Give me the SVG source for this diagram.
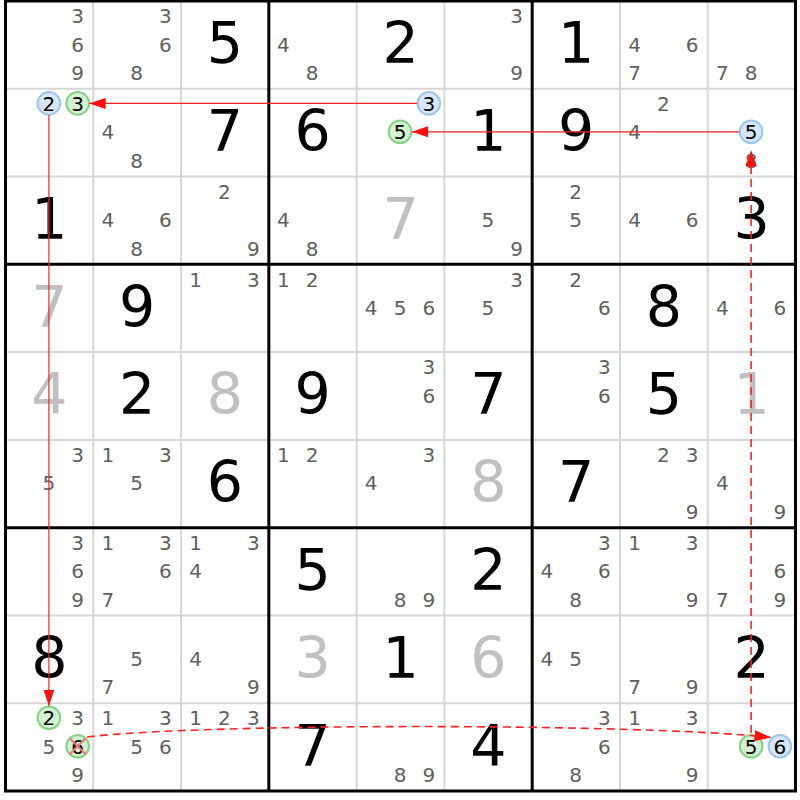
<svg xmlns="http://www.w3.org/2000/svg" width="800" height="800" viewBox="0 0 800 800">
<style>
text{font-family:"DejaVu Sans","Verdana",sans-serif;text-anchor:middle}
.g{font-size:57px;fill:#000}
.s{font-size:57px;fill:#c0c0c0}
.c{font-size:20px;fill:#606060}
.k{font-size:20px;fill:#000}
.thin{stroke:#d6d6d6;stroke-width:2;fill:none}
.thick{stroke:#000;stroke-width:3;fill:none}
.blue{fill:#d6e7fb;stroke:#9cc6f2;stroke-width:2}
.green{fill:#d3f1d3;stroke:#84d384;stroke-width:2}
.x{stroke:#f07878;stroke-width:2}
.link{stroke:#ff2020;stroke-width:1.2;fill:none}
.dash{stroke:#ff2020;stroke-width:1.6;fill:none;stroke-dasharray:8,5}
</style>
<defs>
<marker id="ah" markerUnits="userSpaceOnUse" markerWidth="17" markerHeight="11" refX="16.5" refY="5.5" orient="auto">
<path d="M0,0 L16.5,5.5 L0,11 z" fill="#ff1010"/>
</marker>
</defs>
<rect x="0" y="0" width="800" height="800" fill="#fff"/>
<g id="grid-thin">
<path class="thin" d="M93.28,1V791M181.06,1V791M356.61,1V791M444.39,1V791M619.94,1V791M707.72,1V791M5.5,88.78H795.5M5.5,176.56H795.5M5.5,352.11H795.5M5.5,439.89H795.5M5.5,615.44H795.5M5.5,703.22H795.5"/>
</g>
<g id="grid-thick">
<path class="thick" d="M268.83,1V791M532.17,1V791M5.5,264.33H795.5M5.5,527.67H795.5"/>
<rect class="thick" x="5.5" y="1" width="790" height="790"/>
</g>
<g id="cells">
<!-- row 1 -->
<g id="r1c1" transform="translate(5.5,1)"><text class="c" x="72.2" y="22.2">3</text><text class="c" x="72.2" y="50.6">6</text><text class="c" x="72.2" y="79">9</text></g>
<g id="r1c2" transform="translate(93.28,1)"><text class="c" x="72.2" y="22.2">3</text><text class="c" x="72.2" y="50.6">6</text><text class="c" x="43.4" y="79">8</text></g>
<g id="r1c3" transform="translate(181.06,1)"><text class="g" x="43.9" y="62.3">5</text></g>
<g id="r1c4" transform="translate(268.83,1)"><text class="c" x="14.6" y="50.6">4</text><text class="c" x="43.4" y="79">8</text></g>
<g id="r1c5" transform="translate(356.61,1)"><text class="g" x="43.9" y="62.3">2</text></g>
<g id="r1c6" transform="translate(444.39,1)"><text class="c" x="72.2" y="22.2">3</text><text class="c" x="72.2" y="79">9</text></g>
<g id="r1c7" transform="translate(532.17,1)"><text class="g" x="43.9" y="62.3">1</text></g>
<g id="r1c8" transform="translate(619.94,1)"><text class="c" x="14.6" y="50.6">4</text><text class="c" x="72.2" y="50.6">6</text><text class="c" x="14.6" y="79">7</text></g>
<g id="r1c9" transform="translate(707.72,1)"><text class="c" x="14.6" y="79">7</text><text class="c" x="43.4" y="79">8</text></g>
<!-- row 2 -->
<g id="r2c1" transform="translate(5.5,88.78)"><circle class="blue" cx="43.4" cy="14.6" r="11.3"/><text class="k" x="43.4" y="22.2">2</text><circle class="green" cx="72.2" cy="14.6" r="11.3"/><text class="k" x="72.2" y="22.2">3</text></g>
<g id="r2c2" transform="translate(93.28,88.78)"><text class="c" x="14.6" y="50.6">4</text><text class="c" x="43.4" y="79">8</text></g>
<g id="r2c3" transform="translate(181.06,88.78)"><text class="g" x="43.9" y="62.3">7</text></g>
<g id="r2c4" transform="translate(268.83,88.78)"><text class="g" x="43.9" y="62.3">6</text></g>
<g id="r2c5" transform="translate(356.61,88.78)"><circle class="blue" cx="72.2" cy="14.6" r="11.3"/><text class="k" x="72.2" y="22.2">3</text><circle class="green" cx="43.4" cy="43" r="11.3"/><text class="k" x="43.4" y="50.6">5</text></g>
<g id="r2c6" transform="translate(444.39,88.78)"><text class="g" x="43.9" y="62.3">1</text></g>
<g id="r2c7" transform="translate(532.17,88.78)"><text class="g" x="43.9" y="62.3">9</text></g>
<g id="r2c8" transform="translate(619.94,88.78)"><text class="c" x="43.4" y="22.2">2</text><text class="c" x="14.6" y="50.6">4</text></g>
<g id="r2c9" transform="translate(707.72,88.78)"><circle class="blue" cx="43.4" cy="43" r="11.3"/><text class="k" x="43.4" y="50.6">5</text><text class="c" x="43.4" y="79">8</text></g>
<!-- row 3 -->
<g id="r3c1" transform="translate(5.5,176.56)"><text class="g" x="43.9" y="62.3">1</text></g>
<g id="r3c2" transform="translate(93.28,176.56)"><text class="c" x="14.6" y="50.6">4</text><text class="c" x="72.2" y="50.6">6</text><text class="c" x="43.4" y="79">8</text></g>
<g id="r3c3" transform="translate(181.06,176.56)"><text class="c" x="43.4" y="22.2">2</text><text class="c" x="72.2" y="79">9</text></g>
<g id="r3c4" transform="translate(268.83,176.56)"><text class="c" x="14.6" y="50.6">4</text><text class="c" x="43.4" y="79">8</text></g>
<g id="r3c5" transform="translate(356.61,176.56)"><text class="s" x="43.9" y="62.3">7</text></g>
<g id="r3c6" transform="translate(444.39,176.56)"><text class="c" x="43.4" y="50.6">5</text><text class="c" x="72.2" y="79">9</text></g>
<g id="r3c7" transform="translate(532.17,176.56)"><text class="c" x="43.4" y="22.2">2</text><text class="c" x="43.4" y="50.6">5</text></g>
<g id="r3c8" transform="translate(619.94,176.56)"><text class="c" x="14.6" y="50.6">4</text><text class="c" x="72.2" y="50.6">6</text></g>
<g id="r3c9" transform="translate(707.72,176.56)"><text class="g" x="43.9" y="62.3">3</text></g>
<!-- row 4 -->
<g id="r4c1" transform="translate(5.5,264.33)"><text class="s" x="43.9" y="62.3">7</text></g>
<g id="r4c2" transform="translate(93.28,264.33)"><text class="g" x="43.9" y="62.3">9</text></g>
<g id="r4c3" transform="translate(181.06,264.33)"><text class="c" x="14.6" y="22.2">1</text><text class="c" x="72.2" y="22.2">3</text></g>
<g id="r4c4" transform="translate(268.83,264.33)"><text class="c" x="14.6" y="22.2">1</text><text class="c" x="43.4" y="22.2">2</text></g>
<g id="r4c5" transform="translate(356.61,264.33)"><text class="c" x="14.6" y="50.6">4</text><text class="c" x="43.4" y="50.6">5</text><text class="c" x="72.2" y="50.6">6</text></g>
<g id="r4c6" transform="translate(444.39,264.33)"><text class="c" x="72.2" y="22.2">3</text><text class="c" x="43.4" y="50.6">5</text></g>
<g id="r4c7" transform="translate(532.17,264.33)"><text class="c" x="43.4" y="22.2">2</text><text class="c" x="72.2" y="50.6">6</text></g>
<g id="r4c8" transform="translate(619.94,264.33)"><text class="g" x="43.9" y="62.3">8</text></g>
<g id="r4c9" transform="translate(707.72,264.33)"><text class="c" x="14.6" y="50.6">4</text><text class="c" x="72.2" y="50.6">6</text></g>
<!-- row 5 -->
<g id="r5c1" transform="translate(5.5,352.11)"><text class="s" x="43.9" y="62.3">4</text></g>
<g id="r5c2" transform="translate(93.28,352.11)"><text class="g" x="43.9" y="62.3">2</text></g>
<g id="r5c3" transform="translate(181.06,352.11)"><text class="s" x="43.9" y="62.3">8</text></g>
<g id="r5c4" transform="translate(268.83,352.11)"><text class="g" x="43.9" y="62.3">9</text></g>
<g id="r5c5" transform="translate(356.61,352.11)"><text class="c" x="72.2" y="22.2">3</text><text class="c" x="72.2" y="50.6">6</text></g>
<g id="r5c6" transform="translate(444.39,352.11)"><text class="g" x="43.9" y="62.3">7</text></g>
<g id="r5c7" transform="translate(532.17,352.11)"><text class="c" x="72.2" y="22.2">3</text><text class="c" x="72.2" y="50.6">6</text></g>
<g id="r5c8" transform="translate(619.94,352.11)"><text class="g" x="43.9" y="62.3">5</text></g>
<g id="r5c9" transform="translate(707.72,352.11)"><text class="s" x="43.9" y="62.3">1</text></g>
<!-- row 6 -->
<g id="r6c1" transform="translate(5.5,439.89)"><text class="c" x="72.2" y="22.2">3</text><text class="c" x="43.4" y="50.6">5</text></g>
<g id="r6c2" transform="translate(93.28,439.89)"><text class="c" x="14.6" y="22.2">1</text><text class="c" x="72.2" y="22.2">3</text><text class="c" x="43.4" y="50.6">5</text></g>
<g id="r6c3" transform="translate(181.06,439.89)"><text class="g" x="43.9" y="62.3">6</text></g>
<g id="r6c4" transform="translate(268.83,439.89)"><text class="c" x="14.6" y="22.2">1</text><text class="c" x="43.4" y="22.2">2</text></g>
<g id="r6c5" transform="translate(356.61,439.89)"><text class="c" x="72.2" y="22.2">3</text><text class="c" x="14.6" y="50.6">4</text></g>
<g id="r6c6" transform="translate(444.39,439.89)"><text class="s" x="43.9" y="62.3">8</text></g>
<g id="r6c7" transform="translate(532.17,439.89)"><text class="g" x="43.9" y="62.3">7</text></g>
<g id="r6c8" transform="translate(619.94,439.89)"><text class="c" x="43.4" y="22.2">2</text><text class="c" x="72.2" y="22.2">3</text><text class="c" x="72.2" y="79">9</text></g>
<g id="r6c9" transform="translate(707.72,439.89)"><text class="c" x="14.6" y="50.6">4</text><text class="c" x="72.2" y="79">9</text></g>
<!-- row 7 -->
<g id="r7c1" transform="translate(5.5,527.67)"><text class="c" x="72.2" y="22.2">3</text><text class="c" x="72.2" y="50.6">6</text><text class="c" x="72.2" y="79">9</text></g>
<g id="r7c2" transform="translate(93.28,527.67)"><text class="c" x="14.6" y="22.2">1</text><text class="c" x="72.2" y="22.2">3</text><text class="c" x="72.2" y="50.6">6</text><text class="c" x="14.6" y="79">7</text></g>
<g id="r7c3" transform="translate(181.06,527.67)"><text class="c" x="14.6" y="22.2">1</text><text class="c" x="72.2" y="22.2">3</text><text class="c" x="14.6" y="50.6">4</text></g>
<g id="r7c4" transform="translate(268.83,527.67)"><text class="g" x="43.9" y="62.3">5</text></g>
<g id="r7c5" transform="translate(356.61,527.67)"><text class="c" x="43.4" y="79">8</text><text class="c" x="72.2" y="79">9</text></g>
<g id="r7c6" transform="translate(444.39,527.67)"><text class="g" x="43.9" y="62.3">2</text></g>
<g id="r7c7" transform="translate(532.17,527.67)"><text class="c" x="72.2" y="22.2">3</text><text class="c" x="14.6" y="50.6">4</text><text class="c" x="72.2" y="50.6">6</text><text class="c" x="43.4" y="79">8</text></g>
<g id="r7c8" transform="translate(619.94,527.67)"><text class="c" x="14.6" y="22.2">1</text><text class="c" x="72.2" y="22.2">3</text><text class="c" x="72.2" y="79">9</text></g>
<g id="r7c9" transform="translate(707.72,527.67)"><text class="c" x="72.2" y="50.6">6</text><text class="c" x="14.6" y="79">7</text><text class="c" x="72.2" y="79">9</text></g>
<!-- row 8 -->
<g id="r8c1" transform="translate(5.5,615.44)"><text class="g" x="43.9" y="62.3">8</text></g>
<g id="r8c2" transform="translate(93.28,615.44)"><text class="c" x="43.4" y="50.6">5</text><text class="c" x="14.6" y="79">7</text></g>
<g id="r8c3" transform="translate(181.06,615.44)"><text class="c" x="14.6" y="50.6">4</text><text class="c" x="72.2" y="79">9</text></g>
<g id="r8c4" transform="translate(268.83,615.44)"><text class="s" x="43.9" y="62.3">3</text></g>
<g id="r8c5" transform="translate(356.61,615.44)"><text class="g" x="43.9" y="62.3">1</text></g>
<g id="r8c6" transform="translate(444.39,615.44)"><text class="s" x="43.9" y="62.3">6</text></g>
<g id="r8c7" transform="translate(532.17,615.44)"><text class="c" x="14.6" y="50.6">4</text><text class="c" x="43.4" y="50.6">5</text></g>
<g id="r8c8" transform="translate(619.94,615.44)"><text class="c" x="14.6" y="79">7</text><text class="c" x="72.2" y="79">9</text></g>
<g id="r8c9" transform="translate(707.72,615.44)"><text class="g" x="43.9" y="62.3">2</text></g>
<!-- row 9 -->
<g id="r9c1" transform="translate(5.5,703.22)"><circle class="green" cx="43.4" cy="14.6" r="11.3"/><text class="k" x="43.4" y="22.2">2</text><text class="c" x="72.2" y="22.2">3</text><text class="c" x="43.4" y="50.6">5</text><circle class="green" cx="72.2" cy="43" r="11.3"/><text class="k" x="72.2" y="50.6">6</text><path class="x" d="M64.2,35L80.2,51M80.2,35L64.2,51"/><text class="c" x="72.2" y="79">9</text></g>
<g id="r9c2" transform="translate(93.28,703.22)"><text class="c" x="14.6" y="22.2">1</text><text class="c" x="72.2" y="22.2">3</text><text class="c" x="43.4" y="50.6">5</text><text class="c" x="72.2" y="50.6">6</text></g>
<g id="r9c3" transform="translate(181.06,703.22)"><text class="c" x="14.6" y="22.2">1</text><text class="c" x="43.4" y="22.2">2</text><text class="c" x="72.2" y="22.2">3</text></g>
<g id="r9c4" transform="translate(268.83,703.22)"><text class="g" x="43.9" y="62.3">7</text></g>
<g id="r9c5" transform="translate(356.61,703.22)"><text class="c" x="43.4" y="79">8</text><text class="c" x="72.2" y="79">9</text></g>
<g id="r9c6" transform="translate(444.39,703.22)"><text class="g" x="43.9" y="62.3">4</text></g>
<g id="r9c7" transform="translate(532.17,703.22)"><text class="c" x="72.2" y="22.2">3</text><text class="c" x="72.2" y="50.6">6</text><text class="c" x="43.4" y="79">8</text></g>
<g id="r9c8" transform="translate(619.94,703.22)"><text class="c" x="14.6" y="22.2">1</text><text class="c" x="72.2" y="22.2">3</text><text class="c" x="72.2" y="79">9</text></g>
<g id="r9c9" transform="translate(707.72,703.22)"><circle class="green" cx="43.4" cy="43" r="11.3"/><text class="k" x="43.4" y="50.6">5</text><circle class="blue" cx="72.2" cy="43" r="11.3"/><text class="k" x="72.2" y="50.6">6</text></g>
</g>
<g id="connectors">
<line class="link" x1="417.3" y1="103.4" x2="89.2" y2="103.4" marker-end="url(#ah)"/>
<line class="link" x1="739.6" y1="131.8" x2="411.6" y2="131.8" marker-end="url(#ah)"/>
<line class="link" x1="48.9" y1="115" x2="48.9" y2="706" marker-end="url(#ah)"/>
<path class="dash" d="M87,737 C200,723 640,723 771,737.5" marker-end="url(#ah)"/>
<line class="dash" x1="751.1" y1="733" x2="751.1" y2="150" marker-end="url(#ah)"/>
</g>
</svg>
